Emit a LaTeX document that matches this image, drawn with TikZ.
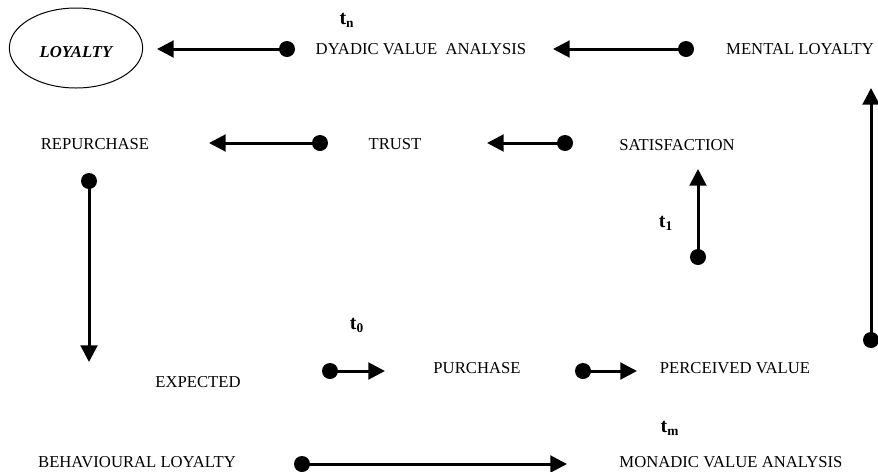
\documentclass[tikz,border=0pt]{standalone}
\usepackage{fontspec}
\setmainfont{Liberation Serif}
\usepackage{tikz}
\usetikzlibrary{arrows.meta}
\usetikzlibrary{shapes.geometric}

\tikzset{
  lab/.style={font=\fontsize{10}{12}\selectfont, inner sep=1pt},
  tlab/.style={font=\fontsize{12}{14}\selectfont\bfseries, inner sep=1pt},
  dot/.style={circle, fill=black, inner sep=0pt, minimum size=9.6pt},
  conn/.style={line width=1.8pt, -{Triangle[length=10pt,width=10pt]}}
}

\begin{document}
\begin{tikzpicture}[x=0.6pt,y=-0.6pt]
\useasboundingbox (0,0) rectangle (878,471);

% the states
\node[draw, ellipse, line width=0.6pt, minimum width=80pt, minimum height=48pt] (loyalty) at (76,48) {};
\node[lab, font=\fontsize{10}{12}\selectfont\bfseries\itshape] (loyaltytxt) at (76,52) {LOYALTY};
\node[lab] (dyadic) at (421,49) {DYADIC VALUE\ \ ANALYSIS};
\node[lab] (mental) at (800,49) {MENTAL LOYALTY};
\node[lab] (repurchase) at (95,144) {REPURCHASE};
\node[lab] (trust) at (395,144) {TRUST};
\node[lab] (satisfaction) at (677,145) {SATISFACTION};
\node[lab] (expected) at (198,382) {EXPECTED};
\node[lab] (purchase) at (477,368) {PURCHASE};
\node[lab] (perceived) at (735,368) {PERCEIVED VALUE};
\node[lab] (behavioural) at (137,462) {BEHAVIOURAL LOYALTY};
\node[lab] (monadic) at (731,462) {MONADIC VALUE ANALYSIS};

% time marks
\node[tlab] (tn) at (347,20) {t\textsubscript{n}};
\node[tlab] (t1) at (666,223) {t\textsubscript{1}};
\node[tlab] (t0) at (357,325) {t\textsubscript{0}};
\node[tlab] (tm) at (670,428) {t\textsubscript{m}};

% dots and heads
\node[dot] (d1) at (287,49) {};   \coordinate (h1) at (157,49);
\node[dot] (d2) at (686,49) {};   \coordinate (h2) at (553,49);
\node[dot] (d3) at (871,340) {};  \coordinate (h3) at (871,88);
\node[dot] (d4) at (320,143) {};  \coordinate (h4) at (209,143);
\node[dot] (d5) at (565,143) {};  \coordinate (h5) at (487,143);
\node[dot] (d6) at (698,257) {};  \coordinate (h6) at (698,169);
\node[dot] (d7) at (89,181) {};   \coordinate (h7) at (89,362);
\node[dot] (d8) at (330,371) {};  \coordinate (h8) at (385,371);
\node[dot] (d9) at (583,371) {};  \coordinate (h9) at (637,371);
\node[dot] (d10) at (302,464) {}; \coordinate (h10) at (567,464);

\foreach \i in {1,...,10}
   \draw[conn] (d\i.center) -- (h\i);

\end{tikzpicture}
\end{document}
